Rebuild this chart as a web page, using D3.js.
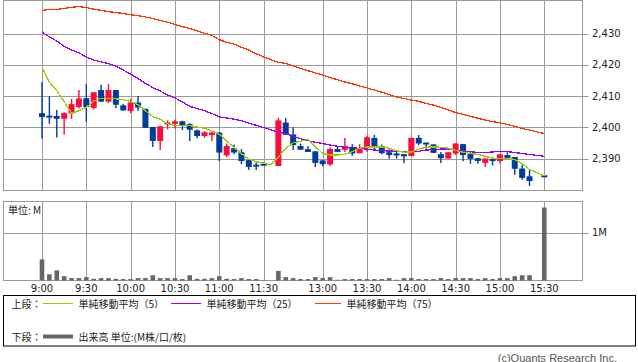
<!DOCTYPE html>
<html>
<head>
<meta charset="utf-8">
<script src="https://cdn.jsdelivr.net/npm/d3@7"></script>
<style>
body { margin: 0; background: #fff; }
svg { display: block; }
</style>
</head>
<body>
<div id="chart"></div>
<script>
// 5-minute slots, 9:00 .. 15:30 (slot 31 is the lunch break)
const slots = [
  "9:00","9:05","9:10","9:15","9:20","9:25","9:30","9:35","9:40","9:45","9:50","9:55",
  "10:00","10:05","10:10","10:15","10:20","10:25","10:30","10:35","10:40","10:45","10:50","10:55",
  "11:00","11:05","11:10","11:15","11:20","11:25","11:30","",
  "12:30","12:35","12:40","12:45","12:50","12:55",
  "13:00","13:05","13:10","13:15","13:20","13:25","13:30","13:35","13:40","13:45","13:50","13:55",
  "14:00","14:05","14:10","14:15","14:20","14:25","14:30","14:35","14:40","14:45","14:50","14:55",
  "15:00","15:05","15:10","15:15","15:20","15:25","15:30"
];

const open = [
  2404.5,2403.4,2403.6,2402.7,2404.4,2406.5,2409.3,2406.2,2411.9,2408.2,2411.9,2407.0,
  2405.2,2407.9,2405.9,2400.1,2395.6,2400.6,2401.1,2401.9,2401.0,2399.0,2397.2,2397.5,
  2398.3,2391.0,2393.3,2392.0,2389.5,2387.7,2388.0,null,
  2387.6,2401.5,2397.7,2394.0,2393.0,2392.3,
  2389.4,2388.1,2393.0,2392.8,2393.7,2391.7,2393.3,2396.6,2393.9,2392.0,2391.3,2391.4,
  2390.8,2396.6,2394.8,2394.5,2391.4,2390.0,2391.6,2394.6,2391.4,2390.1,2388.6,2389.5,
  2389.2,2391.1,2390.5,2386.8,2384.3,null,2384.3
];
const high = [
  2414.5,2409.9,2405.5,2404.8,2409.1,2411.9,2413.8,2411.3,2413.6,2413.8,2411.9,2407.5,
  2409.0,2410.0,2405.9,2400.1,2400.3,2402.2,2402.4,2402.1,2401.3,2399.3,2398.7,2398.5,
  2398.5,2394.8,2394.5,2393.0,2389.5,2388.7,2388.0,null,
  2403.0,2403.0,2400.0,2394.8,2394.0,2392.3,
  2389.4,2393.5,2394.0,2396.6,2394.6,2394.6,2397.3,2397.5,2394.5,2393.0,2392.2,2391.4,
  2396.6,2397.5,2394.9,2394.5,2392.1,2392.0,2394.9,2394.6,2392.1,2390.1,2390.0,2389.5,
  2391.3,2392.0,2390.5,2387.9,2386.3,null,2384.3
];
const low = [
  2396.4,2401.1,2396.7,2397.6,2402.7,2406.0,2401.7,2405.7,2408.1,2407.8,2406.1,2405.2,
  2404.5,2405.3,2399.8,2393.7,2392.7,2399.3,2399.6,2399.1,2395.6,2396.5,2396.6,2395.5,
  2389.2,2390.4,2391.4,2388.2,2386.3,2386.3,2388.0,null,
  2387.6,2397.6,2392.7,2392.8,2392.1,2387.3,
  2387.5,2387.6,2392.1,2392.1,2390.9,2391.7,2392.2,2393.0,2391.4,2389.9,2390.0,2388.5,
  2390.8,2394.3,2393.1,2391.8,2388.6,2389.9,2391.1,2389.1,2388.3,2388.3,2387.3,2387.8,
  2388.5,2390.2,2384.8,2383.2,2381.2,null,2384.3
];
const close = [
  2403.3,2403.4,2402.7,2404.5,2407.4,2409.2,2406.5,2411.2,2408.2,2411.9,2407.2,2405.4,
  2407.9,2406.3,2399.8,2395.6,2400.3,2401.2,2401.9,2400.6,2399.2,2397.2,2398.4,2398.3,
  2391.9,2394.0,2391.9,2389.2,2387.3,2387.7,2388.0,null,
  2402.2,2397.6,2394.3,2392.8,2392.1,2388.6,
  2388.2,2393.0,2392.1,2394.0,2391.6,2393.3,2396.8,2394.0,2391.7,2391.1,2391.3,2390.7,
  2396.6,2394.8,2394.2,2391.8,2390.1,2392.0,2394.8,2391.1,2389.9,2389.2,2390.0,2389.5,
  2391.3,2390.2,2386.7,2383.8,2382.8,null,2384.3
];
// volume, millions of shares
const volume = [
  0.44,0.13,0.21,0.09,0.05,0.05,0.07,0.035,0.05,0.05,0.035,0.03,
  0.03,0.05,0.05,0.11,0.05,0.05,0.05,0.03,0.11,0.035,0.035,0.05,
  0.09,0.035,0.03,0.05,0.03,0.03,0.01,null,
  0.20,0.07,0.05,0.03,0.03,0.07,
  0.05,0.07,0.015,0.03,0.03,0.03,0.03,0.03,0.03,0.05,0.015,0.05,
  0.05,0.03,0.03,0.03,0.05,0.03,0.05,0.05,0.05,0.03,0.05,0.03,
  0.05,0.05,0.09,0.11,0.11,null,1.52
];
const ma5 = [
  2419.3,2414.4,2411.7,2408.2,2404.5,2405.3,2406.4,2408.4,2409.3,2409.3,2409.1,2408.8,
  2408.2,2407.3,2405.3,2403.4,2402.5,2401.1,2400.5,2400.5,2400.5,2400.1,2399.7,2398.8,
  2397.8,2395.6,2393.5,2391.5,2389.8,2389.0,2388.5,2388.0,
  2390.5,2393.2,2395.0,2395.5,2396.1,2393.8,
  2391.6,2391.1,2391.1,2391.4,2392.2,2393.3,2393.7,2393.7,2393.7,2393.3,2392.5,2392.0,
  2392.1,2393.0,2393.6,2393.7,2393.6,2393.3,2392.6,2392.0,2391.6,2391.3,2390.7,2390.1,
  2390.0,2390.0,2389.7,2388.3,2386.5,2385.5,2384.4
];
const ma25 = [
  2430.5,2428.9,2427.6,2425.9,2424.7,2423.8,2422.5,2421.5,2420.9,2420.4,2419.5,2418.3,
  2417.0,2415.6,2414.0,2412.7,2411.6,2410.3,2409.4,2408.1,2406.7,2406.0,2405.3,2404.4,
  2403.3,2403.0,2402.6,2402.1,2401.3,2400.6,2399.9,2399.2,
  2398.4,2398.0,2397.1,2396.3,2395.7,2395.2,
  2394.8,2394.3,2393.9,2393.6,2393.5,2393.2,2393.0,2392.7,2392.5,2392.4,2392.3,2392.2,
  2392.1,2392.3,2392.7,2392.9,2393.0,2393.0,2392.7,2392.4,2392.2,2391.9,2391.9,2392.1,
  2392.2,2392.2,2391.9,2391.6,2391.3,2391.0,2390.7
];
const ma75 = [
  2437.4,2437.7,2437.7,2438.0,2438.4,2438.6,2438.3,2437.8,2437.4,2437.0,2436.7,2436.4,
  2436.0,2435.7,2435.3,2434.8,2434.2,2433.6,2432.9,2432.2,2431.6,2430.8,2430.1,2429.4,
  2428.0,2427.2,2426.6,2425.6,2424.7,2423.5,2422.5,2421.6,
  2420.8,2420.4,2419.7,2418.8,2418.1,2417.4,
  2416.7,2415.9,2415.2,2414.5,2413.9,2413.2,2412.6,2411.9,2411.2,2410.5,2409.7,2409.2,
  2408.7,2408.3,2407.6,2407.1,2406.3,2405.5,2404.7,2404.1,2403.5,2402.9,2402.3,2401.8,
  2401.4,2400.9,2400.3,2399.6,2399.1,2398.5,2398.0
];

const priceTicks = [2390, 2400, 2410, 2420, 2430];
const timeTicks = ["9:00","9:30","10:00","10:30","11:00","11:30","13:00","13:30","14:00","14:30","15:00","15:30"];

const width = 638, height = 362;
const upTop = 0.5, upBottom = 190.5, loTop = 201.5, loBottom = 280.5;
const left = 3.5, right = 582.5;
const gridColor = "#9a9a9a";
const upColor = "#ff0a3c", downColor = "#003c9e";
const axisFont = "'DejaVu Sans', Verdana, sans-serif";
const jpFont = "'Noto Sans CJK JP', sans-serif";

const svg = d3.select("#chart").append("svg")
  .attr("width", width)
  .attr("height", height)
  .attr("viewBox", [0, 0, width, height]);

// 9:00 sits at slot 0, 15:30 at slot 68
const x = d3.scaleLinear().domain([0, 68]).range([42, 544.3]);
const y = d3.scaleLinear().domain([2390, 2430]).range([158.5, 33.5]);
const yv = d3.scaleLinear().domain([0, 1]).range([loBottom, 232.5]);

const tickIdx = timeTicks.map(t => slots.indexOf(t));

// ---------- panels + grid ----------
function panel(top, bottom, hTicks, yScale) {
  const g = svg.append("g");
  g.append("rect")
    .attr("x", left).attr("y", top)
    .attr("width", right - left).attr("height", bottom - top)
    .attr("fill", "#fff");
  g.selectAll("line.v").data(tickIdx).join("line")
    .attr("x1", d => Math.round(x(d)) + 0.5).attr("x2", d => Math.round(x(d)) + 0.5)
    .attr("y1", top).attr("y2", bottom)
    .attr("stroke", gridColor);
  g.selectAll("line.h").data(hTicks).join("line")
    .attr("x1", left).attr("x2", right + 6)
    .attr("y1", d => Math.round(yScale(d)) + 0.5).attr("y2", d => Math.round(yScale(d)) + 0.5)
    .attr("stroke", gridColor);
  g.append("rect")
    .attr("x", left).attr("y", top)
    .attr("width", right - left).attr("height", bottom - top)
    .attr("fill", "none").attr("stroke", gridColor);
  return g;
}

panel(upTop, upBottom, priceTicks, y);
panel(loTop, loBottom, [1], yv);

// price labels
svg.append("g").selectAll("text").data(priceTicks).join("text")
  .attr("x", 592)
  .attr("y", d => y(d))
  .attr("dominant-baseline", "central")
  .attr("font-family", axisFont)
  .attr("font-size", 10)
  .attr("fill", "#222")
  .text(d => d3.format(",")(d));

svg.append("text")
  .attr("x", 592).attr("y", yv(1))
  .attr("dominant-baseline", "central")
  .attr("font-family", axisFont).attr("font-size", 10).attr("fill", "#222")
  .text("1M");

svg.append("text")
  .attr("x", 8).attr("y", 209.5)
  .attr("dominant-baseline", "central")
  .attr("font-family", jpFont).attr("font-size", 10).attr("fill", "#222")
  .text("単位: M");

// time labels
svg.append("g").selectAll("text").data(timeTicks).join("text")
  .attr("x", d => x(slots.indexOf(d)))
  .attr("y", 288.5)
  .attr("text-anchor", "middle")
  .attr("dominant-baseline", "central")
  .attr("font-family", axisFont)
  .attr("font-size", 10)
  .attr("fill", "#222")
  .text(d => d);

// ---------- candles ----------
const bars = slots.map((s, i) => ({ i, o: open[i], h: high[i], l: low[i], c: close[i], v: volume[i] }))
  .filter(d => d.o != null);

const candle = svg.append("g").selectAll("g").data(bars).join("g");

candle.append("line")
  .attr("x1", d => x(d.i)).attr("x2", d => x(d.i))
  .attr("y1", d => y(d.h)).attr("y2", d => y(d.l))
  .attr("stroke", d => d.c > d.o ? upColor : downColor)
  .attr("stroke-width", 1.4);

candle.append("rect")
  .attr("x", d => x(d.i) - 3)
  .attr("width", 6)
  .attr("y", d => Math.min(y(d.o), y(d.c)) - (Math.abs(y(d.o) - y(d.c)) < 2 ? 1 : 0))
  .attr("height", d => Math.max(2, Math.abs(y(d.o) - y(d.c))))
  .attr("fill", d => d.c > d.o ? upColor : downColor);

// ---------- moving averages ----------
const maLine = d3.line().x((d, i) => x(i)).y(d => y(d));
const mas = [
  { data: ma75, color: "#ff3300" },
  { data: ma25, color: "#9900ff" },
  { data: ma5, color: "#99cc00" }
];
svg.append("g").selectAll("path").data(mas).join("path")
  .attr("d", d => maLine(d.data))
  .attr("fill", "none")
  .attr("stroke", d => d.color)
  .attr("stroke-width", 1.3)
  .attr("shape-rendering", "crispEdges");

// ---------- volume ----------
svg.append("g").selectAll("rect").data(bars).join("rect")
  .attr("x", d => x(d.i) - 2.3)
  .attr("width", 4.6)
  .attr("y", d => yv(d.v))
  .attr("height", d => loBottom - yv(d.v))
  .attr("fill", "#666");

// ---------- legend ----------
const lg = svg.append("g");
lg.append("rect")
  .attr("x", 3.5).attr("y", 295.5)
  .attr("width", 632).attr("height", 50.5)
  .attr("fill", "#fff").attr("stroke", "#000");

const legendText = (tx, ty, s) => lg.append("text")
  .attr("x", tx).attr("y", ty)
  .attr("dominant-baseline", "central")
  .attr("font-family", jpFont).attr("font-size", 10).attr("fill", "#222")
  .text(s);

legendText(11.5, 303.5, "上段：");
legendText(11.5, 336.5, "下段：");

const legendItems = [
  { x1: 43, x2: 73, color: "#99cc00", label: "単純移動平均（5）" },
  { x1: 171, x2: 201, color: "#9900ff", label: "単純移動平均（25）" },
  { x1: 315, x2: 341, color: "#ff3300", label: "単純移動平均（75）" }
];
legendItems.forEach(d => {
  lg.append("line")
    .attr("x1", d.x1).attr("x2", d.x2).attr("y1", 303.5).attr("y2", 303.5)
    .attr("stroke", d.color);
  legendText(d.x2 + 5.5, 303.5, d.label);
});

lg.append("line")
  .attr("x1", 43).attr("x2", 73).attr("y1", 336.5).attr("y2", 336.5)
  .attr("stroke", "#666").attr("stroke-width", 4);
legendText(78.5, 336.5, "出来高 単位:(M株/口/枚)");

svg.append("text")
  .attr("x", 617).attr("y", 357.5)
  .attr("text-anchor", "end")
  .attr("dominant-baseline", "central")
  .attr("font-family", "'Liberation Sans', Arial, sans-serif")
  .attr("font-size", 11)
  .attr("fill", "#555")
  .text("(c)Quants Research Inc.");
</script>
</body>
</html>
